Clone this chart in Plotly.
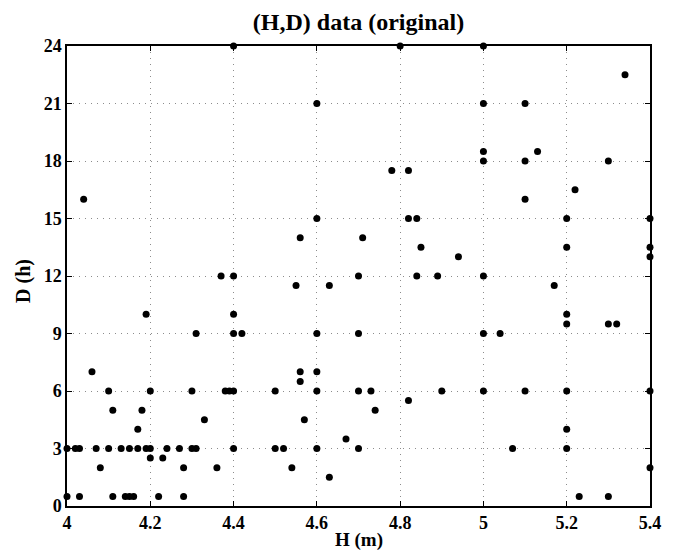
import plotly.graph_objects as go

# (H, D) pairs, grouped by D row
H_m = [
    4.40, 4.80, 5.00,
    5.34,
    4.60, 5.00, 5.10,
    5.00, 5.13,
    5.00, 5.10, 5.30,
    4.78, 4.82,
    5.22,
    4.04, 5.10,
    4.60, 4.82, 4.84, 5.20, 5.40,
    4.56, 4.71,
    4.85, 5.20, 5.40,
    4.94, 5.40,
    4.37, 4.40, 4.70, 4.84, 4.89, 5.00,
    4.55, 4.63, 5.17,
    4.19, 4.40, 5.20,
    5.20, 5.30, 5.32,
    4.31, 4.40, 4.42, 4.60, 4.70, 5.00, 5.04,
    4.06, 4.56, 4.60,
    4.56,
    4.10, 4.20, 4.30, 4.38, 4.39, 4.40, 4.50, 4.60, 4.70, 4.73, 4.90, 5.00, 5.10, 5.20, 5.40,
    4.82,
    4.11, 4.18, 4.74,
    4.33, 4.57,
    4.17, 5.20,
    4.67,
    4.00, 4.02, 4.03, 4.07, 4.10, 4.13, 4.15, 4.17, 4.19, 4.20, 4.24, 4.27, 4.30, 4.31,
    4.40, 4.50, 4.52, 4.60, 4.70, 5.07, 5.20,
    4.20, 4.23,
    4.08, 4.28, 4.36, 4.54, 5.40,
    4.63,
    4.00, 4.03, 4.11, 4.14, 4.15, 4.16, 4.22, 4.28, 5.23, 5.30,
]
D_h = [
    24, 24, 24,
    22.5,
    21, 21, 21,
    18.5, 18.5,
    18, 18, 18,
    17.5, 17.5,
    16.5,
    16, 16,
    15, 15, 15, 15, 15,
    14, 14,
    13.5, 13.5, 13.5,
    13, 13,
    12, 12, 12, 12, 12, 12,
    11.5, 11.5, 11.5,
    10, 10, 10,
    9.5, 9.5, 9.5,
    9, 9, 9, 9, 9, 9, 9,
    7, 7, 7,
    6.5,
    6, 6, 6, 6, 6, 6, 6, 6, 6, 6, 6, 6, 6, 6, 6,
    5.5,
    5, 5, 5,
    4.5, 4.5,
    4, 4,
    3.5,
    3, 3, 3, 3, 3, 3, 3, 3, 3, 3, 3, 3, 3, 3,
    3, 3, 3, 3, 3, 3, 3,
    2.5, 2.5,
    2, 2, 2, 2, 2,
    1.5,
    0.5, 0.5, 0.5, 0.5, 0.5, 0.5, 0.5, 0.5, 0.5, 0.5,
]

x_ticks = [4, 4.2, 4.4, 4.6, 4.8, 5, 5.2, 5.4]
x_labels = ["4", "4.2", "4.4", "4.6", "4.8", "5", "5.2", "5.4"]
y_ticks = [0, 3, 6, 9, 12, 15, 18, 21, 24]

FONT = "Liberation Serif"

fig = go.Figure()
fig.add_trace(go.Scatter(
    x=H_m, y=D_h, mode="markers",
    marker=dict(color="black", size=7),
    cliponaxis=False, showlegend=False,
))

axis_common = dict(
    showline=True, linecolor="black", linewidth=1.5, mirror="ticks",
    ticks="inside", ticklen=5, tickcolor="black", tickwidth=1,
    showgrid=True, gridcolor="#8c8c8c", griddash="1px,5px", gridwidth=1,
    zeroline=False,
    tickfont=dict(family=FONT, size=18, color="black", weight="bold"),
)

fig.update_xaxes(range=[4, 5.4], tickvals=x_ticks, ticktext=x_labels, **axis_common)
fig.update_yaxes(range=[0, 24], tickvals=y_ticks, **axis_common)

fig.update_layout(
    width=673, height=554,
    margin=dict(l=67, r=23, t=46, b=48),
    paper_bgcolor="white", plot_bgcolor="white",
    title=dict(text="(H,D) data (original)", x=(67 + 650) / 2 / 673, xanchor="center",
               y=1 - 22 / 554, yanchor="middle", yref="container",
               font=dict(family=FONT, size=24, color="black", weight="bold")),
)

fig.add_annotation(text="H (m)", xref="paper", yref="paper", x=0.5, y=-0.074,
                   xanchor="center", yanchor="middle", showarrow=False,
                   font=dict(family=FONT, size=19, color="black", weight="bold"))
fig.add_annotation(text="D (h)", xref="paper", yref="paper", x=-0.075, y=0.49,
                   xanchor="center", yanchor="middle", showarrow=False, textangle=-90,
                   font=dict(family=FONT, size=20, color="black", weight="bold"))

# drop the default body margin so the figure sits at the page corner
fig.write_html("out.html", config={"displayModeBar": False},
               post_script="document.body.style.margin='0';")
